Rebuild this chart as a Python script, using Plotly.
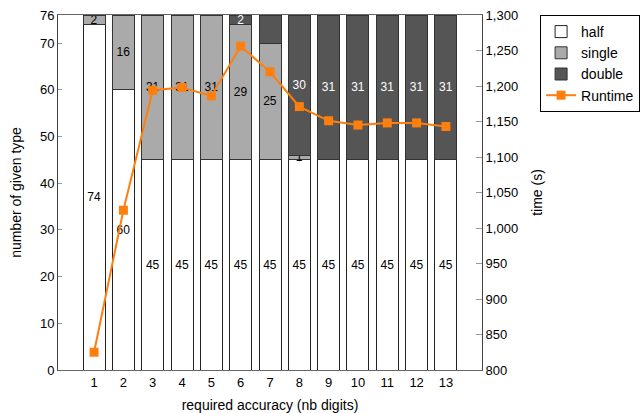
import plotly.graph_objects as go

digits = [1, 2, 3, 4, 5, 6, 7, 8, 9, 10, 11, 12, 13]
half = [74, 60, 45, 45, 45, 45, 45, 45, 45, 45, 45, 45, 45]
single = [2, 16, 31, 31, 31, 29, 25, 1, 0, 0, 0, 0, 0]
double = [0, 0, 0, 0, 0, 2, 6, 30, 31, 31, 31, 31, 31]
double_labels = ["", "", "", "", "", "2", "", "30", "31", "31", "31", "31", "31"]
runtime = [825, 1025, 1194, 1198, 1186, 1256, 1220, 1171, 1151, 1145, 1148, 1148, 1143]

FONT = "Liberation Sans, Arial, sans-serif"

def lab(vals):
    return [str(v) if v > 0 else "" for v in vals]

fig = go.Figure()
fig.add_trace(go.Bar(x=digits, y=half, name="half", marker=dict(color="white", line=dict(color="#222", width=1)),
                     text=lab(half), textposition="inside", insidetextanchor="middle", textangle=0,
                     textfont=dict(color="black", size=12), width=0.75))
fig.add_trace(go.Bar(x=digits, y=single, name="single", marker=dict(color="#aaaaaa", line=dict(color="#333", width=1)),
                     text=lab(single), textposition="inside", insidetextanchor="middle", textangle=0,
                     textfont=dict(color="black", size=12), width=0.75))
fig.add_trace(go.Bar(x=digits, y=double, name="double", marker=dict(color="#555555", line=dict(color="#333", width=1)),
                     text=double_labels, textposition="inside", insidetextanchor="middle", textangle=0,
                     textfont=dict(color="white", size=12), width=0.75))
fig.add_trace(go.Scatter(x=digits, y=runtime, name="Runtime", yaxis="y2", mode="lines+markers",
                         line=dict(color="#ff7f0e", width=2),
                         marker=dict(symbol="square", size=9, color="#ff7f0e")))

fig.update_layout(
    width=643, height=413,
    margin=dict(l=58, r=161, t=15, b=43, autoexpand=False),
    barmode="stack", bargap=0.25,
    plot_bgcolor="white", paper_bgcolor="white",
    font=dict(family=FONT, size=13, color="black"),
    uniformtext=dict(minsize=12, mode="show"),
    showlegend=True,
    legend=dict(x=1.137, y=1, xanchor="left", yanchor="top", bordercolor="black", borderwidth=1,
                bgcolor="white", font=dict(size=14), traceorder="normal", tracegroupgap=0),
    xaxis=dict(range=[-0.23, 14.23], tickmode="array", tickvals=digits, ticktext=[str(d) for d in digits],
               showline=True, linecolor="#666", mirror=True, ticks="", showgrid=False, zeroline=False,
               automargin=False, title=dict(text="required accuracy (nb digits)", font=dict(size=14))),
    yaxis=dict(range=[0, 76], tickvals=[0, 10, 20, 30, 40, 50, 60, 70, 76], showline=True, linecolor="#444",
               ticks="inside", ticklen=4, tickcolor="#999", showgrid=False, zeroline=False,
               automargin=False, title=dict(text="number of given type", font=dict(size=14))),
    yaxis2=dict(range=[800, 1300], dtick=50, tickformat=",", overlaying="y", side="right", showline=True,
                linecolor="#444", ticks="inside", ticklen=6, tickcolor="#999", showgrid=False, zeroline=False,
                automargin=False, title=dict(text="time (s)", font=dict(size=14))),
)

fig.write_html("out.html", config={"displayModeBar": False},
               post_script="document.body.style.margin='0';document.body.style.overflow='hidden';")
